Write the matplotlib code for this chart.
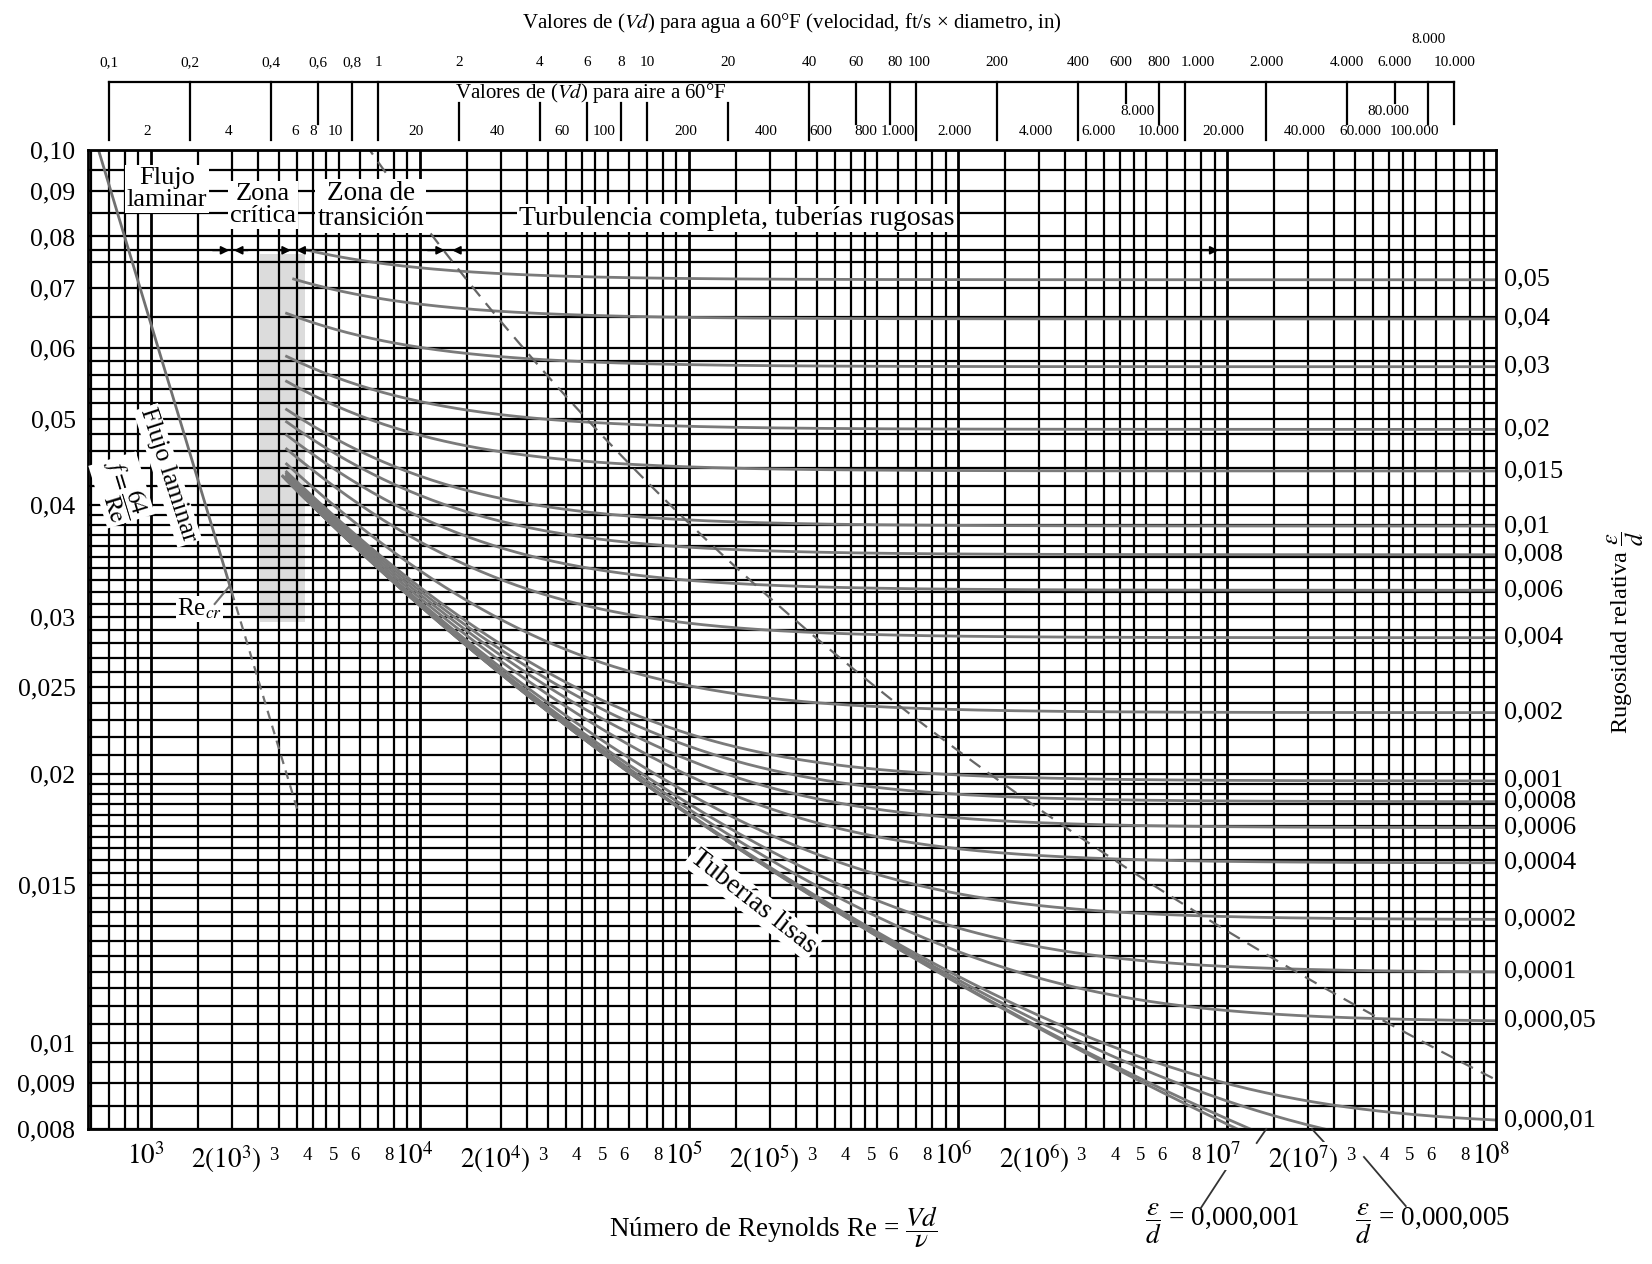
import numpy as np
import matplotlib.pyplot as plt
from matplotlib.transforms import blended_transform_factory, offset_copy

plt.rcParams['font.family'] = ['Liberation Serif', 'DejaVu Serif']
plt.rcParams['mathtext.fontset'] = 'stix'

# relative roughness of the curves labelled on the right
rough = [0.05, 0.04, 0.03, 0.02, 0.015, 0.01, 0.008, 0.006, 0.004, 0.002,
         0.001, 0.0008, 0.0006, 0.0004, 0.0002, 0.0001, 0.00005, 0.00001]
rough_lbl = ["0,05", "0,04", "0,03", "0,02", "0,015", "0,01", "0,008", "0,006",
             "0,004", "0,002", "0,001", "0,0008", "0,0006", "0,0004", "0,0002",
             "0,0001", "0,000,05", "0,000,01"]
# curves leaving through the bottom + smooth pipe
rough_low = [0.000005, 0.000001, 0.0]
# Re where each curve starts (critical zone)
re_start = [3800, 3400] + [3200] * 16
re_start_low = [3100, 3100, 3100]

# left axis labels
f_ticks = [0.10, 0.09, 0.08, 0.07, 0.06, 0.05, 0.04, 0.03, 0.025, 0.02, 0.015,
           0.01, 0.009, 0.008]
f_tick_lbl = ["0,10", "0,09", "0,08", "0,07", "0,06", "0,05", "0,04", "0,03",
              "0,025", "0,02", "0,015", "0,01", "0,009", "0,008"]

# top scales: Vd for water and air at 60F
water_vd = [0.1, 0.2, 0.4, 0.6, 0.8, 1, 2, 4, 6, 8, 10, 20, 40, 60, 80, 100,
            200, 400, 600, 800, 1000, 2000, 4000, 6000, 8000, 10000]
water_lbl = ["0,1", "0,2", "0,4", "0,6", "0,8", "1", "2", "4", "6", "8", "10",
             "20", "40", "60", "80", "100", "200", "400", "600", "800", "1.000",
             "2.000", "4.000", "6.000", "8.000", "10.000"]
water_tick = "LLLMLLDDDDDDLMMLLLSMLLMSMM"
air_vd = [2, 4, 6, 8, 10, 20, 40, 60, 100, 200, 400, 600, 800, 1000, 2000,
          4000, 6000, 8000, 10000, 20000, 40000, 60000, 80000, 100000]
air_lbl = ["2", "4", "6", "8", "10", "20", "40", "60", "100", "200", "400",
           "600", "800", "1.000", "2.000", "4.000", "6.000", "8.000", "10.000",
           "20.000", "40.000", "60.000", "80.000", "100.000"]
re_per_vd_water = 7000
re_per_vd_air = 486
# sideways nudges (px) where the printed labels were moved apart
water_nudge = {"600": -5, "80": 5, "100": 3, "1.000": 13}
air_nudge = {"6": 19, "8": 4, "60": 17, "600": 7, "800": 18, "1.000": 24,
             "6.000": 16, "8.000": 21, "10.000": 16, "60.000": 8, "80.000": 3,
             "100.000": 3}

# grid
x_grid_mult = [1, 1.5, 2, 2.5, 3, 3.5, 4, 4.5, 5, 6, 7, 8, 9]
x_grid_dec = [1e2, 1e3, 1e4, 1e5, 1e6, 1e7]
f_grid = (list(np.arange(0.008, 0.02001, 0.0005)) + list(np.arange(0.021, 0.04001, 0.001))
          + list(np.arange(0.042, 0.06001, 0.002)) + list(np.arange(0.065, 0.1001, 0.005))
          + [0.0772])

XMIN, XMAX = 585, 1e8
YMIN, YMAX = 0.008, 0.10


def colebrook(re, rr):
    f = np.full(re.shape, 0.03)
    for _ in range(80):
        f = (-2.0 * np.log10(rr / 3.7 + 2.51 / (re * np.sqrt(f)))) ** -2
    return f


fig = plt.figure(figsize=(16.52, 12.64), dpi=100)
ax = fig.add_axes([88 / 1652, 1 - 1129 / 1264, 1408 / 1652, 979 / 1264])
ax.set_xscale('log')
ax.set_yscale('log')
ax.set_xlim(XMIN, XMAX)
ax.set_ylim(YMIN, YMAX)
ax.minorticks_off()
ax.set_xticks([])
ax.set_yticks(f_ticks, f_tick_lbl)
ax.tick_params(axis='y', length=0, pad=9, labelsize=18.5)
for s in ax.spines.values():
    s.set_linewidth(2)

for d in x_grid_dec:
    for m in x_grid_mult:
        x = m * d
        if XMIN < x < XMAX:
            ax.axvline(x, color='k', lw=2.0 if m == 1 else 1.6, zorder=1)
for y in f_grid:
    ax.axhline(y, color='k', lw=1.6, zorder=1)

# gray critical band
ax.fill_betweenx([0.0296, 0.0765], 2550, 3750, color='#dcdcdc', zorder=0.5, lw=0)

# laminar line
re_lam = np.array([640, 2000])
ax.plot(re_lam, 64 / re_lam, color='#707070', lw=2.0, zorder=2)
re_lam2 = np.array([2000, 3500])
ax.plot(re_lam2, 64 / re_lam2, color='#707070', lw=1.6, ls=(0, (4, 3)), zorder=2)

curve_kw = dict(color='#7a7a7a', lw=2.0, zorder=2)
t_right = blended_transform_factory(ax.transAxes, ax.transData)
for rr, r0, lbl in zip(rough, re_start, rough_lbl):
    re = np.logspace(np.log10(r0), 8, 300)
    f = colebrook(re, rr)
    ax.plot(re, f, **curve_kw)
    ax.text(1.006, f[-1], lbl, transform=t_right, ha='left', va='center', fontsize=19)
for rr, r0 in zip(rough_low, re_start_low):
    re = np.logspace(np.log10(r0), 8, 300)
    ax.plot(re, colebrook(re, rr), **curve_kw)

# boundary of complete turbulence (dashed)
rr_b = np.logspace(np.log10(0.1), np.log10(1.2e-5), 300)
f_b = (-2.0 * np.log10(rr_b / 3.7)) ** -2
ax.plot(200 / (rr_b * np.sqrt(f_b)), f_b, color='#666666', lw=1.6, ls=(0, (6, 4)), zorder=2)

# zone texts
box = dict(facecolor='white', edgecolor='none', pad=1.5)
ax.text(1150, 0.0905, "Flujo\nlaminar", ha='center', va='center', fontsize=19,
        linespacing=1.0, bbox=box, zorder=5)
ax.text(2610, 0.0868, "Zona\ncrítica", ha='center', va='center', fontsize=19,
        linespacing=1.0, bbox=box, zorder=5)
ax.text(6570, 0.0865, "Zona de\ntransición", ha='center', va='center', fontsize=19.5,
        linespacing=1.0, bbox=box, zorder=5)
ax.text(1.51e5, 0.0839, "Turbulencia completa, tuberías rugosas", ha='center',
        va='center', fontsize=20, bbox=box, zorder=5)
ax.text(1157, 0.0432, "Flujo laminar", rotation=-72, ha='center', va='center',
        fontsize=18.5, bbox=box, zorder=5, rotation_mode='anchor')
ax.text(780, 0.0416, r"$f = \dfrac{64}{\mathrm{Re}}$", rotation=-73, ha='center',
        va='center', fontsize=17, bbox=box, zorder=5, rotation_mode='anchor')
ax.text(1520, 0.0306, r"Re$_{cr}$", ha='center', va='center', fontsize=18,
        bbox=dict(facecolor='white', edgecolor='none', pad=0.5), zorder=5)
ax.plot([1.73e3, 1.97e3], [0.031, 0.0325], color='#707070', lw=1.5, zorder=5)
ax.text(1.73e5, 0.01437, "Tuberías lisas", rotation=-38, ha='center', va='center',
        fontsize=20, bbox=box, zorder=5, rotation_mode='anchor')

# zone arrows
arr = dict(arrowstyle='-|>', color='k', lw=1.3, mutation_scale=12, shrinkA=0, shrinkB=0)
for x_from, x_to in [(1700, 1960), (2300, 2040), (2950, 3320), (3950, 3480),
                     (1.07e4, 1.24e4), (1.5e4, 1.32e4), (8.0e6, 9.3e6)]:
    ax.annotate("", xy=(x_to, 0.0772), xytext=(x_from, 0.0772), arrowprops=arr, zorder=4)

# bottom Reynolds labels
tb = blended_transform_factory(ax.transData, ax.transAxes)
tb_off = offset_copy(tb, fig=fig, x=-5, y=0, units='dots')
lbl_bg = dict(facecolor='white', edgecolor='none', pad=0.3)
for e in [3, 4, 5, 6, 7]:
    d = 10.0 ** e
    ax.text(d, -0.014, r"$10^{%d}$" % e, transform=tb_off, ha='center', va='top',
            fontsize=19.5, bbox=lbl_bg, zorder=6)
    ax.text(2 * d, -0.014, r"$2(10^{%d})$" % e, transform=tb_off, ha='center',
            va='top', fontsize=19.5, bbox=lbl_bg, zorder=6)
    for m in [3, 4, 5, 6, 8]:
        ax.text(m * d, -0.018, str(m), transform=tb_off, ha='center', va='top',
                fontsize=13.5, bbox=lbl_bg, zorder=6)
ax.text(1e8, -0.014, r"$10^{8}$", transform=tb_off, ha='center', va='top',
        fontsize=19.5, bbox=lbl_bg, zorder=6)

ax.text(0.487, -0.1, r"Número de Reynolds Re = $\dfrac{Vd}{\nu}$", transform=ax.transAxes,
        ha='center', va='center', fontsize=19.5)
ax.text(9.6e6, -0.097, r"$\dfrac{\varepsilon}{d}$ = 0,000,001", transform=tb,
        ha='center', va='center', fontsize=19.5)
ax.text(5.8e7, -0.097, r"$\dfrac{\varepsilon}{d}$ = 0,000,005", transform=tb,
        ha='center', va='center', fontsize=19.5)
lead = dict(color='#333333', lw=1.3, transform=tb, clip_on=False, zorder=3)
ax.plot([1.40e7, 1.29e7], [0.0, -0.0143], **lead)
ax.plot([1.07e7, 8.0e6], [-0.0276, -0.0807], **lead)
ax.plot([2.07e7, 2.31e7], [0.0, -0.0143], **lead)
ax.plot([3.23e7, 4.62e7], [-0.0286, -0.0787], **lead)

# right side label
ax.text(1.092, 0.507, r"Rugosidad relativa $\dfrac{\varepsilon}{d}$", transform=ax.transAxes,
        rotation=90, ha='center', va='center', fontsize=17.5)

# top scales
y_line = 1.0695
tick_end = {'L': 1.0102, 'M': 1.0266, 'S': 1.048}
top_kw = dict(color='k', lw=1.6, transform=tb, clip_on=False)
ax.plot([re_per_vd_water * water_vd[0], re_per_vd_water * water_vd[-1]], [y_line, y_line], **top_kw)
for v, lbl, kind in zip(water_vd, water_lbl, water_tick):
    x = re_per_vd_water * v
    if kind == 'D':
        ax.plot([x, x], [1.048, 1.0102], **top_kw)
    else:
        ax.plot([x, x], [y_line, tick_end[kind]], **top_kw)
    t = offset_copy(tb, fig=fig, x=water_nudge.get(lbl, 0), y=0, units='dots')
    ax.text(x, 1.1124 if lbl == "8.000" else 1.0889, lbl, transform=t,
            ha='center', va='center', fontsize=11)
for v, lbl in zip(air_vd, air_lbl):
    t = offset_copy(tb, fig=fig, x=air_nudge.get(lbl, 0), y=0, units='dots')
    ax.text(re_per_vd_air * v, 1.0398 if lbl in ("8.000", "80.000") else 1.0184, lbl,
            transform=t, ha='center', va='center', fontsize=11)
ax.text(0.357, 1.0582, r"Valores de ($Vd$) para aire a 60°F", transform=ax.transAxes,
        ha='center', va='center', fontsize=15)
ax.text(0.5, 1.1297, r"Valores de ($Vd$) para agua a 60°F (velocidad, ft/s × diametro, in)",
        transform=ax.transAxes, ha='center', va='center', fontsize=15)

fig.savefig("out.png", dpi=100)
